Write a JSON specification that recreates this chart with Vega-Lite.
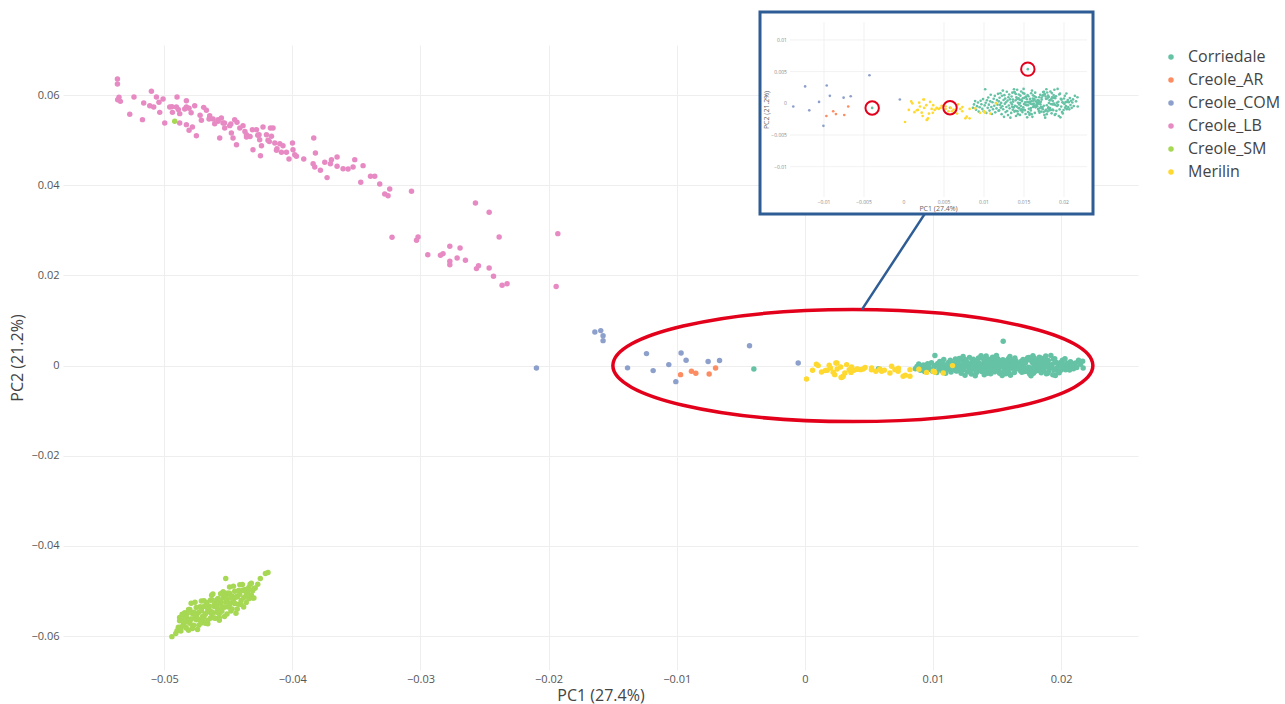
{
"$schema": "https://vega.github.io/schema/vega-lite/v6.json",
"width": 1075,
"height": 625,
"autosize": {"type": "none"},
"padding": {"left": 63, "top": 45, "right": 147, "bottom": 34},
"background": "white",
"config": {
 "view": {"stroke": null},
 "font": "Open Sans",
 "axis": {"gridColor": "#eeeeee", "gridWidth": 1, "domain": false, "ticks": false, "labelFont": "Open Sans", "labelFontSize": 11, "labelColor": "#555555", "titleFont": "Open Sans", "titleFontSize": 16, "titleFontWeight": "normal", "titleColor": "#444444"}
},
"datasets": {
"pca": [
{"breed":"Corriedale","pc1":0.00862,"pc2":-0.00071},{"breed":"Corriedale","pc1":0.00875,"pc2":-0.00018},{"breed":"Corriedale","pc1":0.00889,"pc2":0.00035},{"breed":"Corriedale","pc1":0.00901,"pc2":-0.00102},{"breed":"Corriedale","pc1":0.00913,"pc2":-0.00045},{"breed":"Corriedale","pc1":0.00925,"pc2":0.00012},{"breed":"Corriedale","pc1":0.00934,"pc2":-0.00131},{"breed":"Corriedale","pc1":0.00946,"pc2":-0.00062},{"breed":"Corriedale","pc1":0.00958,"pc2":0.00041},{"breed":"Corriedale","pc1":0.00967,"pc2":-0.00015},{"breed":"Corriedale","pc1":0.00979,"pc2":-0.00088},{"breed":"Corriedale","pc1":0.00988,"pc2":0.00066},{"breed":"Corriedale","pc1":0.00997,"pc2":-0.00124},{"breed":"Corriedale","pc1":0.01008,"pc2":-0.00033},{"breed":"Corriedale","pc1":0.01015,"pc2":0.00222},{"breed":"Corriedale","pc1":0.01021,"pc2":0.00008},{"breed":"Corriedale","pc1":0.01029,"pc2":-0.00151},{"breed":"Corriedale","pc1":0.01037,"pc2":0.00048},{"breed":"Corriedale","pc1":0.01046,"pc2":-0.00071},{"breed":"Corriedale","pc1":0.01053,"pc2":0.00091},{"breed":"Corriedale","pc1":0.01061,"pc2":-0.00022},{"breed":"Corriedale","pc1":0.01069,"pc2":-0.00115},{"breed":"Corriedale","pc1":0.01078,"pc2":0.00031},{"breed":"Corriedale","pc1":0.01084,"pc2":0.00135},{"breed":"Corriedale","pc1":0.01092,"pc2":-0.00058},{"breed":"Corriedale","pc1":0.01099,"pc2":-0.00168},{"breed":"Corriedale","pc1":0.01106,"pc2":0.00017},{"breed":"Corriedale","pc1":0.01113,"pc2":-0.00093},{"breed":"Corriedale","pc1":0.01121,"pc2":0.00072},{"breed":"Corriedale","pc1":0.01128,"pc2":-0.00039},{"breed":"Corriedale","pc1":0.01135,"pc2":0.00118},{"breed":"Corriedale","pc1":0.01141,"pc2":-0.00142},{"breed":"Corriedale","pc1":0.01149,"pc2":0.00005},{"breed":"Corriedale","pc1":0.01156,"pc2":-0.00081},{"breed":"Corriedale","pc1":0.01162,"pc2":0.00051},{"breed":"Corriedale","pc1":0.01169,"pc2":-0.00021},{"breed":"Corriedale","pc1":0.01175,"pc2":0.00149},{"breed":"Corriedale","pc1":0.01181,"pc2":-0.00118},
{"breed":"Corriedale","pc1":0.01185,"pc2":0.00031},{"breed":"Corriedale","pc1":0.0119,"pc2":-0.00112},{"breed":"Corriedale","pc1":0.01195,"pc2":0.00087},{"breed":"Corriedale","pc1":0.012,"pc2":-0.00024},{"breed":"Corriedale","pc1":0.01205,"pc2":0.00158},{"breed":"Corriedale","pc1":0.0121,"pc2":-0.00069},{"breed":"Corriedale","pc1":0.01215,"pc2":0.00006},{"breed":"Corriedale","pc1":0.0122,"pc2":-0.00171},{"breed":"Corriedale","pc1":0.01225,"pc2":0.00119},{"breed":"Corriedale","pc1":0.0123,"pc2":-0.00047},{"breed":"Corriedale","pc1":0.01235,"pc2":0.00201},{"breed":"Corriedale","pc1":0.0124,"pc2":-0.00093},{"breed":"Corriedale","pc1":0.01245,"pc2":0.00052},{"breed":"Corriedale","pc1":0.0125,"pc2":-0.00214},{"breed":"Corriedale","pc1":0.01255,"pc2":0.00128},{"breed":"Corriedale","pc1":0.0126,"pc2":-0.00008},{"breed":"Corriedale","pc1":0.01265,"pc2":0.00074},{"breed":"Corriedale","pc1":0.0127,"pc2":-0.00139},{"breed":"Corriedale","pc1":0.01275,"pc2":0.00017},{"breed":"Corriedale","pc1":0.0128,"pc2":-0.00058},{"breed":"Corriedale","pc1":0.01285,"pc2":0.00183},{"breed":"Corriedale","pc1":0.0129,"pc2":-0.00121},{"breed":"Corriedale","pc1":0.01295,"pc2":0.00043},{"breed":"Corriedale","pc1":0.013,"pc2":-0.00186},{"breed":"Corriedale","pc1":0.01305,"pc2":0.00096},{"breed":"Corriedale","pc1":0.0131,"pc2":-0.00035},{"breed":"Corriedale","pc1":0.01315,"pc2":0.00139},{"breed":"Corriedale","pc1":0.0132,"pc2":-0.00079},{"breed":"Corriedale","pc1":0.01325,"pc2":0.00062},{"breed":"Corriedale","pc1":0.0133,"pc2":-0.00227},{"breed":"Corriedale","pc1":0.01335,"pc2":0.00011},{"breed":"Corriedale","pc1":0.0134,"pc2":-0.00152},{"breed":"Corriedale","pc1":0.01345,"pc2":0.00108},{"breed":"Corriedale","pc1":0.0135,"pc2":-0.00016},{"breed":"Corriedale","pc1":0.01355,"pc2":0.00168},{"breed":"Corriedale","pc1":0.0136,"pc2":-0.00101},{"breed":"Corriedale","pc1":0.01365,"pc2":0.00025},{"breed":"Corriedale","pc1":0.0137,"pc2":-0.00064},{"breed":"Corriedale","pc1":0.01375,"pc2":0.00221},{"breed":"Corriedale","pc1":0.0138,"pc2":-0.00131},
{"breed":"Corriedale","pc1":0.01385,"pc2":0.00171},{"breed":"Corriedale","pc1":0.0139,"pc2":-0.00119},{"breed":"Corriedale","pc1":0.01395,"pc2":0.00047},{"breed":"Corriedale","pc1":0.014,"pc2":-0.00201},{"breed":"Corriedale","pc1":0.01405,"pc2":0.00093},{"breed":"Corriedale","pc1":0.0141,"pc2":-0.00052},{"breed":"Corriedale","pc1":0.01415,"pc2":0.00214},{"breed":"Corriedale","pc1":0.0142,"pc2":-0.00128},{"breed":"Corriedale","pc1":0.01425,"pc2":0.00008},{"breed":"Corriedale","pc1":0.0143,"pc2":-0.00074},{"breed":"Corriedale","pc1":0.01435,"pc2":0.00139},{"breed":"Corriedale","pc1":0.0144,"pc2":-0.00017},{"breed":"Corriedale","pc1":0.01445,"pc2":0.00058},{"breed":"Corriedale","pc1":0.0145,"pc2":-0.00183},{"breed":"Corriedale","pc1":0.01455,"pc2":0.00121},{"breed":"Corriedale","pc1":0.0146,"pc2":-0.00043},{"breed":"Corriedale","pc1":0.01465,"pc2":0.00186},{"breed":"Corriedale","pc1":0.0147,"pc2":-0.00096},{"breed":"Corriedale","pc1":0.01475,"pc2":0.00035},{"breed":"Corriedale","pc1":0.0148,"pc2":-0.00139},{"breed":"Corriedale","pc1":0.01485,"pc2":0.00079},{"breed":"Corriedale","pc1":0.0149,"pc2":-0.00062},{"breed":"Corriedale","pc1":0.01495,"pc2":0.00227},{"breed":"Corriedale","pc1":0.015,"pc2":-0.00011},{"breed":"Corriedale","pc1":0.01505,"pc2":0.00152},{"breed":"Corriedale","pc1":0.0151,"pc2":-0.00108},{"breed":"Corriedale","pc1":0.01515,"pc2":0.00016},{"breed":"Corriedale","pc1":0.0152,"pc2":-0.00168},{"breed":"Corriedale","pc1":0.01525,"pc2":0.00101},{"breed":"Corriedale","pc1":0.0153,"pc2":-0.00025},{"breed":"Corriedale","pc1":0.01535,"pc2":0.00064},{"breed":"Corriedale","pc1":0.0154,"pc2":-0.00221},{"breed":"Corriedale","pc1":0.01545,"pc2":0.00131},{"breed":"Corriedale","pc1":0.0155,"pc2":-0.00031},{"breed":"Corriedale","pc1":0.01555,"pc2":0.00112},{"breed":"Corriedale","pc1":0.0156,"pc2":-0.00087},{"breed":"Corriedale","pc1":0.01565,"pc2":0.00024},{"breed":"Corriedale","pc1":0.0157,"pc2":-0.00158},{"breed":"Corriedale","pc1":0.01575,"pc2":0.00069},{"breed":"Corriedale","pc1":0.0158,"pc2":-0.00006},
{"breed":"Corriedale","pc1":0.01585,"pc2":-0.00112},{"breed":"Corriedale","pc1":0.0159,"pc2":0.00158},{"breed":"Corriedale","pc1":0.01595,"pc2":-0.00171},{"breed":"Corriedale","pc1":0.016,"pc2":0.00201},{"breed":"Corriedale","pc1":0.01605,"pc2":-0.00214},{"breed":"Corriedale","pc1":0.0161,"pc2":0.00074},{"breed":"Corriedale","pc1":0.01615,"pc2":-0.00058},{"breed":"Corriedale","pc1":0.0162,"pc2":0.00043},{"breed":"Corriedale","pc1":0.01625,"pc2":-0.00035},{"breed":"Corriedale","pc1":0.0163,"pc2":0.00062},{"breed":"Corriedale","pc1":0.01635,"pc2":-0.00152},{"breed":"Corriedale","pc1":0.0164,"pc2":0.00168},{"breed":"Corriedale","pc1":0.01645,"pc2":-0.00064},{"breed":"Corriedale","pc1":0.0165,"pc2":0.00031},{"breed":"Corriedale","pc1":0.01655,"pc2":-0.00024},{"breed":"Corriedale","pc1":0.0166,"pc2":0.00006},{"breed":"Corriedale","pc1":0.01665,"pc2":-0.00047},{"breed":"Corriedale","pc1":0.0167,"pc2":0.00052},{"breed":"Corriedale","pc1":0.01675,"pc2":-0.00008},{"breed":"Corriedale","pc1":0.0168,"pc2":0.00017},{"breed":"Corriedale","pc1":0.01685,"pc2":-0.00121},{"breed":"Corriedale","pc1":0.0169,"pc2":0.00096},{"breed":"Corriedale","pc1":0.01695,"pc2":-0.00079},{"breed":"Corriedale","pc1":0.017,"pc2":0.00011},{"breed":"Corriedale","pc1":0.01705,"pc2":-0.00016},{"breed":"Corriedale","pc1":0.0171,"pc2":0.00025},{"breed":"Corriedale","pc1":0.01715,"pc2":-0.00131},{"breed":"Corriedale","pc1":0.0172,"pc2":0.00087},{"breed":"Corriedale","pc1":0.01725,"pc2":-0.00069},{"breed":"Corriedale","pc1":0.0173,"pc2":0.00119},{"breed":"Corriedale","pc1":0.01735,"pc2":-0.00093},{"breed":"Corriedale","pc1":0.0174,"pc2":0.00128},{"breed":"Corriedale","pc1":0.01745,"pc2":-0.00139},{"breed":"Corriedale","pc1":0.0175,"pc2":0.00183},{"breed":"Corriedale","pc1":0.01755,"pc2":-0.00186},{"breed":"Corriedale","pc1":0.0176,"pc2":0.00139},{"breed":"Corriedale","pc1":0.01765,"pc2":-0.00227},{"breed":"Corriedale","pc1":0.0177,"pc2":0.00108},{"breed":"Corriedale","pc1":0.01775,"pc2":-0.00101},{"breed":"Corriedale","pc1":0.0178,"pc2":0.00221},
{"breed":"Corriedale","pc1":0.01785,"pc2":-0.00031},{"breed":"Corriedale","pc1":0.0179,"pc2":0.00171},{"breed":"Corriedale","pc1":0.01795,"pc2":-0.00128},{"breed":"Corriedale","pc1":0.018,"pc2":0.00121},{"breed":"Corriedale","pc1":0.01805,"pc2":-0.00062},{"breed":"Corriedale","pc1":0.0181,"pc2":0.00101},{"breed":"Corriedale","pc1":0.01815,"pc2":-0.00087},{"breed":"Corriedale","pc1":0.0182,"pc2":0.00047},{"breed":"Corriedale","pc1":0.01825,"pc2":-0.00074},{"breed":"Corriedale","pc1":0.0183,"pc2":0.00186},{"breed":"Corriedale","pc1":0.01835,"pc2":-0.00011},{"breed":"Corriedale","pc1":0.0184,"pc2":0.00064},{"breed":"Corriedale","pc1":0.01845,"pc2":-0.00158},{"breed":"Corriedale","pc1":0.0185,"pc2":0.00093},{"breed":"Corriedale","pc1":0.01855,"pc2":-0.00017},{"breed":"Corriedale","pc1":0.0186,"pc2":0.00035},{"breed":"Corriedale","pc1":0.01865,"pc2":-0.00108},{"breed":"Corriedale","pc1":0.0187,"pc2":0.00131},{"breed":"Corriedale","pc1":0.01875,"pc2":-0.00006},{"breed":"Corriedale","pc1":0.0188,"pc2":0.00214},{"breed":"Corriedale","pc1":0.01885,"pc2":-0.00183},{"breed":"Corriedale","pc1":0.0189,"pc2":0.00079},{"breed":"Corriedale","pc1":0.01895,"pc2":-0.00168},{"breed":"Corriedale","pc1":0.019,"pc2":0.00112},{"breed":"Corriedale","pc1":0.01905,"pc2":-0.00119},{"breed":"Corriedale","pc1":0.0191,"pc2":0.00008},{"breed":"Corriedale","pc1":0.01915,"pc2":-0.00043},{"breed":"Corriedale","pc1":0.0192,"pc2":0.00227},{"breed":"Corriedale","pc1":0.01925,"pc2":-0.00025},{"breed":"Corriedale","pc1":0.0193,"pc2":0.00024},{"breed":"Corriedale","pc1":0.01935,"pc2":-0.00201},{"breed":"Corriedale","pc1":0.0194,"pc2":0.00139},{"breed":"Corriedale","pc1":0.01945,"pc2":-0.00096},{"breed":"Corriedale","pc1":0.0195,"pc2":0.00152},{"breed":"Corriedale","pc1":0.01955,"pc2":-0.00221},{"breed":"Corriedale","pc1":0.0196,"pc2":0.00069},{"breed":"Corriedale","pc1":0.01965,"pc2":-0.00052},{"breed":"Corriedale","pc1":0.0197,"pc2":0.00058},{"breed":"Corriedale","pc1":0.01975,"pc2":-0.00139},{"breed":"Corriedale","pc1":0.0198,"pc2":0.00016},
{"breed":"Corriedale","pc1":0.01985,"pc2":-0.00159},{"breed":"Corriedale","pc1":0.0199,"pc2":0.00008},{"breed":"Corriedale","pc1":0.01995,"pc2":-0.00106},{"breed":"Corriedale","pc1":0.02,"pc2":0.00076},{"breed":"Corriedale","pc1":0.02005,"pc2":-0.00011},{"breed":"Corriedale","pc1":0.0201,"pc2":0.00118},{"breed":"Corriedale","pc1":0.02015,"pc2":-0.00071},{"breed":"Corriedale","pc1":0.0202,"pc2":0.00018},{"breed":"Corriedale","pc1":0.02025,"pc2":-0.00045},{"breed":"Corriedale","pc1":0.0203,"pc2":0.00155},{"breed":"Corriedale","pc1":0.02035,"pc2":-0.00092},{"breed":"Corriedale","pc1":0.0204,"pc2":0.00022},
{"breed":"Corriedale","pc1":0.01352,"pc2":-0.00055},{"breed":"Corriedale","pc1":0.01361,"pc2":0.00059},{"breed":"Corriedale","pc1":0.0137,"pc2":-0.00063},{"breed":"Corriedale","pc1":0.01379,"pc2":0.00177},{"breed":"Corriedale","pc1":0.01388,"pc2":-0.00038},{"breed":"Corriedale","pc1":0.01397,"pc2":0.00146},{"breed":"Corriedale","pc1":0.01406,"pc2":-0.00122},{"breed":"Corriedale","pc1":0.01415,"pc2":0.0007},{"breed":"Corriedale","pc1":0.01424,"pc2":-0.00171},{"breed":"Corriedale","pc1":0.01433,"pc2":0.00077},{"breed":"Corriedale","pc1":0.01442,"pc2":-0.00081},{"breed":"Corriedale","pc1":0.01451,"pc2":0.00005},{"breed":"Corriedale","pc1":0.0146,"pc2":-0.00111},{"breed":"Corriedale","pc1":0.01469,"pc2":0.0005},{"breed":"Corriedale","pc1":0.01478,"pc2":-0.00105},{"breed":"Corriedale","pc1":0.01487,"pc2":0.00161},{"breed":"Corriedale","pc1":0.01496,"pc2":-0.00097},{"breed":"Corriedale","pc1":0.01505,"pc2":0.00086},{"breed":"Corriedale","pc1":0.01514,"pc2":-0.00019},{"breed":"Corriedale","pc1":0.01523,"pc2":0.00102},{"breed":"Corriedale","pc1":0.01532,"pc2":-0.00028},{"breed":"Corriedale","pc1":0.01541,"pc2":0.0002},{"breed":"Corriedale","pc1":0.0155,"pc2":-0.00137},{"breed":"Corriedale","pc1":0.01559,"pc2":0.00014},{"breed":"Corriedale","pc1":0.01568,"pc2":-0.00182},{"breed":"Corriedale","pc1":0.01577,"pc2":0.00025},{"breed":"Corriedale","pc1":0.01586,"pc2":-0.00074},{"breed":"Corriedale","pc1":0.01595,"pc2":0.00034},{"breed":"Corriedale","pc1":0.01604,"pc2":-0.00013},{"breed":"Corriedale","pc1":0.01613,"pc2":0.00126},{"breed":"Corriedale","pc1":0.01622,"pc2":-0.00006},{"breed":"Corriedale","pc1":0.01631,"pc2":0.00111},{"breed":"Corriedale","pc1":0.0164,"pc2":-0.00051},{"breed":"Corriedale","pc1":0.01649,"pc2":0.00095},{"breed":"Corriedale","pc1":0.01658,"pc2":-0.00046},{"breed":"Corriedale","pc1":0.01667,"pc2":0.00009},{"breed":"Corriedale","pc1":0.01676,"pc2":-0.0009},{"breed":"Corriedale","pc1":0.01685,"pc2":0.00042},{"breed":"Corriedale","pc1":0.01694,"pc2":-0.00149},{"breed":"Corriedale","pc1":0.01703,"pc2":0.00134},{"breed":"Corriedale","pc1":0.01712,"pc2":-0.00055},{"breed":"Corriedale","pc1":0.01721,"pc2":0.00059},{"breed":"Corriedale","pc1":0.0173,"pc2":-0.00063},{"breed":"Corriedale","pc1":0.01739,"pc2":0.00177},{"breed":"Corriedale","pc1":0.01748,"pc2":-0.00038},{"breed":"Corriedale","pc1":0.01757,"pc2":0.00146},{"breed":"Corriedale","pc1":0.01766,"pc2":-0.00122},{"breed":"Corriedale","pc1":0.01775,"pc2":0.0007},{"breed":"Corriedale","pc1":0.01784,"pc2":-0.00171},{"breed":"Corriedale","pc1":0.01793,"pc2":0.00077},{"breed":"Corriedale","pc1":0.01802,"pc2":-0.00081},{"breed":"Corriedale","pc1":0.01811,"pc2":0.00005},{"breed":"Corriedale","pc1":0.0182,"pc2":-0.00111},{"breed":"Corriedale","pc1":0.01829,"pc2":0.0005},{"breed":"Corriedale","pc1":0.01838,"pc2":-0.00105},{"breed":"Corriedale","pc1":0.01847,"pc2":0.00161},{"breed":"Corriedale","pc1":0.01856,"pc2":-0.00097},{"breed":"Corriedale","pc1":0.01865,"pc2":0.00086},{"breed":"Corriedale","pc1":0.01874,"pc2":-0.00019},{"breed":"Corriedale","pc1":0.01883,"pc2":0.00102},{"breed":"Corriedale","pc1":0.01892,"pc2":-0.00028},
{"breed":"Corriedale","pc1":0.02047,"pc2":0.00052},{"breed":"Corriedale","pc1":0.02053,"pc2":-0.00061},{"breed":"Corriedale","pc1":0.0206,"pc2":0.00018},{"breed":"Corriedale","pc1":0.02066,"pc2":-0.00095},{"breed":"Corriedale","pc1":0.02073,"pc2":0.00084},{"breed":"Corriedale","pc1":0.02081,"pc2":-0.00027},{"breed":"Corriedale","pc1":0.02088,"pc2":0.00041},{"breed":"Corriedale","pc1":0.02096,"pc2":-0.00072},{"breed":"Corriedale","pc1":0.02104,"pc2":0.00012},{"breed":"Corriedale","pc1":0.02113,"pc2":0.00061},{"breed":"Corriedale","pc1":0.02122,"pc2":-0.00044},{"breed":"Corriedale","pc1":0.02136,"pc2":0.00118},{"breed":"Corriedale","pc1":0.02151,"pc2":0.00031},{"breed":"Corriedale","pc1":0.02168,"pc2":0.00096},{"breed":"Corriedale","pc1":0.02172,"pc2":-0.00051},
{"breed":"Corriedale","pc1":0.01548,"pc2":0.00539},{"breed":"Corriedale","pc1":-0.00398,"pc2":-0.00073},{"breed":"Corriedale","pc1":0.00575,"pc2":-0.0007},
{"breed":"Creole_AR","pc1":-0.0097,"pc2":-0.002},{"breed":"Creole_AR","pc1":-0.00885,"pc2":-0.00126},{"breed":"Creole_AR","pc1":-0.00851,"pc2":-0.0017},{"breed":"Creole_AR","pc1":-0.00747,"pc2":-0.00184},{"breed":"Creole_AR","pc1":-0.00697,"pc2":-0.00051},
{"breed":"Creole_COM","pc1":-0.02095,"pc2":-0.00051},{"breed":"Creole_COM","pc1":-0.01639,"pc2":0.00747},{"breed":"Creole_COM","pc1":-0.01593,"pc2":0.00776},{"breed":"Creole_COM","pc1":-0.01575,"pc2":0.00665},{"breed":"Creole_COM","pc1":-0.01575,"pc2":0.00554},{"breed":"Creole_COM","pc1":-0.01384,"pc2":-0.0005},{"breed":"Creole_COM","pc1":-0.01236,"pc2":0.00266},{"breed":"Creole_COM","pc1":-0.01184,"pc2":-0.00111},{"breed":"Creole_COM","pc1":-0.01062,"pc2":0.00022},{"breed":"Creole_COM","pc1":-0.00966,"pc2":0.00281},{"breed":"Creole_COM","pc1":-0.00927,"pc2":0.00118},{"breed":"Creole_COM","pc1":-0.01007,"pc2":-0.00355},{"breed":"Creole_COM","pc1":-0.00755,"pc2":0.00089},{"breed":"Creole_COM","pc1":-0.00666,"pc2":0.00111},{"breed":"Creole_COM","pc1":-0.00432,"pc2":0.00443},{"breed":"Creole_COM","pc1":-0.00052,"pc2":0.0006},
{"breed":"Creole_LB","pc1":-0.05365,"pc2":0.06357},{"breed":"Creole_LB","pc1":-0.05365,"pc2":0.06246},{"breed":"Creole_LB","pc1":-0.05353,"pc2":0.05949},{"breed":"Creole_LB","pc1":-0.05342,"pc2":0.0586},{"breed":"Creole_LB","pc1":-0.05363,"pc2":0.05898},{"breed":"Creole_LB","pc1":-0.05236,"pc2":0.05958},{"breed":"Creole_LB","pc1":-0.05269,"pc2":0.05572},{"breed":"Creole_LB","pc1":-0.0517,"pc2":0.05455},{"breed":"Creole_LB","pc1":-0.0516,"pc2":0.05825},{"breed":"Creole_LB","pc1":-0.051,"pc2":0.06082},{"breed":"Creole_LB","pc1":-0.05113,"pc2":0.05765},{"breed":"Creole_LB","pc1":-0.05082,"pc2":0.05736},{"breed":"Creole_LB","pc1":-0.05061,"pc2":0.05958},{"breed":"Creole_LB","pc1":-0.05041,"pc2":0.05838},{"breed":"Creole_LB","pc1":-0.05009,"pc2":0.05914},{"breed":"Creole_LB","pc1":-0.04996,"pc2":0.05381},{"breed":"Creole_LB","pc1":-0.05035,"pc2":0.05616},{"breed":"Creole_LB","pc1":-0.04957,"pc2":0.05736},{"breed":"Creole_LB","pc1":-0.04936,"pc2":0.05616},{"breed":"Creole_LB","pc1":-0.049,"pc2":0.05958},{"breed":"Creole_LB","pc1":-0.04905,"pc2":0.05736},{"breed":"Creole_LB","pc1":-0.04879,"pc2":0.05588},{"breed":"Creole_LB","pc1":-0.04827,"pc2":0.05876},{"breed":"Creole_LB","pc1":-0.04827,"pc2":0.05736},{"breed":"Creole_LB","pc1":-0.04806,"pc2":0.05705},{"breed":"Creole_LB","pc1":-0.04762,"pc2":0.05765},{"breed":"Creole_LB","pc1":-0.04879,"pc2":0.05381},{"breed":"Creole_LB","pc1":-0.04827,"pc2":0.05344},{"breed":"Creole_LB","pc1":-0.04806,"pc2":0.05217},{"breed":"Creole_LB","pc1":-0.0478,"pc2":0.05293},{"breed":"Creole_LB","pc1":-0.04749,"pc2":0.051},{"breed":"Creole_LB","pc1":-0.04692,"pc2":0.05727},{"breed":"Creole_LB","pc1":-0.04671,"pc2":0.05661},{"breed":"Creole_LB","pc1":-0.0471,"pc2":0.05439},{"breed":"Creole_LB","pc1":-0.04645,"pc2":0.05543},{"breed":"Creole_LB","pc1":-0.04619,"pc2":0.0547},{"breed":"Creole_LB","pc1":-0.04606,"pc2":0.05366},{"breed":"Creole_LB","pc1":-0.0458,"pc2":0.05455},{"breed":"Creole_LB","pc1":-0.04554,"pc2":0.05492},{"breed":"Creole_LB","pc1":-0.04541,"pc2":0.05381},{"breed":"Creole_LB","pc1":-0.04567,"pc2":0.05049},{"breed":"Creole_LB","pc1":-0.04528,"pc2":0.05271},{"breed":"Creole_LB","pc1":-0.04489,"pc2":0.05322},{"breed":"Creole_LB","pc1":-0.04476,"pc2":0.0516},{"breed":"Creole_LB","pc1":-0.04463,"pc2":0.05049},{"breed":"Creole_LB","pc1":-0.0445,"pc2":0.05455},{"breed":"Creole_LB","pc1":-0.04432,"pc2":0.05395},{"breed":"Creole_LB","pc1":-0.04436,"pc2":0.049},{"breed":"Creole_LB","pc1":-0.04385,"pc2":0.05322},{"breed":"Creole_LB","pc1":-0.04358,"pc2":0.05122},{"breed":"Creole_LB","pc1":-0.04358,"pc2":0.05071},{"breed":"Creole_LB","pc1":-0.04312,"pc2":0.05233},{"breed":"Creole_LB","pc1":-0.04307,"pc2":0.04789},{"breed":"Creole_LB","pc1":-0.0428,"pc2":0.05233},{"breed":"Creole_LB","pc1":-0.0426,"pc2":0.05122},{"breed":"Creole_LB","pc1":-0.04255,"pc2":0.05011},{"breed":"Creole_LB","pc1":-0.04241,"pc2":0.04878},{"breed":"Creole_LB","pc1":-0.04229,"pc2":0.05293},{"breed":"Creole_LB","pc1":-0.04249,"pc2":0.04656},{"breed":"Creole_LB","pc1":-0.04202,"pc2":0.05122},{"breed":"Creole_LB","pc1":-0.0419,"pc2":0.04996},{"breed":"Creole_LB","pc1":-0.04171,"pc2":0.05271},{"breed":"Creole_LB","pc1":-0.04151,"pc2":0.05271},{"breed":"Creole_LB","pc1":-0.04163,"pc2":0.05084},{"breed":"Creole_LB","pc1":-0.04137,"pc2":0.04938},{"breed":"Creole_LB","pc1":-0.04124,"pc2":0.04774},{"breed":"Creole_LB","pc1":-0.04098,"pc2":0.04922},{"breed":"Creole_LB","pc1":-0.04073,"pc2":0.04878},{"breed":"Creole_LB","pc1":-0.04085,"pc2":0.0473},{"breed":"Creole_LB","pc1":-0.04046,"pc2":0.0473},{"breed":"Creole_LB","pc1":-0.04026,"pc2":0.04583},{"breed":"Creole_LB","pc1":-0.03999,"pc2":0.04938},{"breed":"Creole_LB","pc1":-0.03995,"pc2":0.04789},{"breed":"Creole_LB","pc1":-0.03981,"pc2":0.04678},{"breed":"Creole_LB","pc1":-0.03968,"pc2":0.04641},{"breed":"Creole_LB","pc1":-0.03911,"pc2":0.04583},{"breed":"Creole_LB","pc1":-0.03833,"pc2":0.05049},{"breed":"Creole_LB","pc1":-0.0382,"pc2":0.04716},{"breed":"Creole_LB","pc1":-0.03838,"pc2":0.04479},{"breed":"Creole_LB","pc1":-0.03825,"pc2":0.04406},{"breed":"Creole_LB","pc1":-0.03781,"pc2":0.0433},{"breed":"Creole_LB","pc1":-0.03747,"pc2":0.04508},{"breed":"Creole_LB","pc1":-0.03729,"pc2":0.04169},{"breed":"Creole_LB","pc1":-0.03703,"pc2":0.04479},{"breed":"Creole_LB","pc1":-0.03695,"pc2":0.04568},{"breed":"Creole_LB","pc1":-0.03651,"pc2":0.04627},{"breed":"Creole_LB","pc1":-0.03651,"pc2":0.04419},{"breed":"Creole_LB","pc1":-0.03604,"pc2":0.04368},{"breed":"Creole_LB","pc1":-0.03565,"pc2":0.04361},{"breed":"Creole_LB","pc1":-0.03526,"pc2":0.04406},{"breed":"Creole_LB","pc1":-0.03513,"pc2":0.04568},{"breed":"Creole_LB","pc1":-0.03466,"pc2":0.04064},{"breed":"Creole_LB","pc1":-0.03448,"pc2":0.04435},{"breed":"Creole_LB","pc1":-0.0339,"pc2":0.04197},{"breed":"Creole_LB","pc1":-0.03357,"pc2":0.04197},{"breed":"Creole_LB","pc1":-0.03318,"pc2":0.04029},{"breed":"Creole_LB","pc1":-0.03279,"pc2":0.03807},{"breed":"Creole_LB","pc1":-0.03253,"pc2":0.03769},{"breed":"Creole_LB","pc1":-0.0324,"pc2":0.03918},{"breed":"Creole_LB","pc1":-0.0307,"pc2":0.03865},{"breed":"Creole_LB","pc1":-0.03222,"pc2":0.02849},{"breed":"Creole_LB","pc1":-0.03031,"pc2":0.02778},{"breed":"Creole_LB","pc1":-0.03019,"pc2":0.02854},{"breed":"Creole_LB","pc1":-0.02571,"pc2":0.03608},{"breed":"Creole_LB","pc1":-0.02464,"pc2":0.03399},{"breed":"Creole_LB","pc1":-0.02386,"pc2":0.02854},{"breed":"Creole_LB","pc1":-0.01928,"pc2":0.02927},{"breed":"Creole_LB","pc1":-0.02943,"pc2":0.02461},{"breed":"Creole_LB","pc1":-0.02844,"pc2":0.02446},{"breed":"Creole_LB","pc1":-0.02824,"pc2":0.02483},{"breed":"Creole_LB","pc1":-0.02771,"pc2":0.02645},{"breed":"Creole_LB","pc1":-0.02691,"pc2":0.0261},{"breed":"Creole_LB","pc1":-0.02714,"pc2":0.02388},{"breed":"Creole_LB","pc1":-0.02771,"pc2":0.02313},{"breed":"Creole_LB","pc1":-0.02771,"pc2":0.02239},{"breed":"Creole_LB","pc1":-0.02649,"pc2":0.02335},{"breed":"Creole_LB","pc1":-0.02563,"pc2":0.02151},{"breed":"Creole_LB","pc1":-0.02547,"pc2":0.02217},{"breed":"Creole_LB","pc1":-0.02464,"pc2":0.02166},{"breed":"Creole_LB","pc1":-0.0243,"pc2":0.0198},{"breed":"Creole_LB","pc1":-0.02363,"pc2":0.0178},{"breed":"Creole_LB","pc1":-0.02324,"pc2":0.01818},{"breed":"Creole_LB","pc1":-0.01941,"pc2":0.01752},{"breed":"Creole_LB","pc1":-0.0472,"pc2":0.0555},{"breed":"Creole_LB","pc1":-0.0465,"pc2":0.0547},{"breed":"Creole_LB","pc1":-0.0458,"pc2":0.0542},{"breed":"Creole_LB","pc1":-0.0453,"pc2":0.0538},{"breed":"Creole_LB","pc1":-0.0448,"pc2":0.0536},{"breed":"Creole_LB","pc1":-0.0441,"pc2":0.0527},{"breed":"Creole_LB","pc1":-0.0437,"pc2":0.0519},{"breed":"Creole_LB","pc1":-0.0433,"pc2":0.0508},{"breed":"Creole_LB","pc1":-0.0494,"pc2":0.0574},{"breed":"Creole_LB","pc1":-0.0489,"pc2":0.0568},{"breed":"Creole_LB","pc1":-0.0484,"pc2":0.0569},{"breed":"Creole_LB","pc1":-0.0479,"pc2":0.0561},{"breed":"Creole_LB","pc1":-0.0427,"pc2":0.0511},{"breed":"Creole_LB","pc1":-0.0418,"pc2":0.0497},{"breed":"Creole_LB","pc1":-0.0412,"pc2":0.0481},
{"breed":"Creole_SM","pc1":-0.04918,"pc2":0.05417},
{"breed":"Creole_SM","pc1":-0.0488,"pc2":-0.05658},{"breed":"Creole_SM","pc1":-0.0488,"pc2":-0.05588},{"breed":"Creole_SM","pc1":-0.0487,"pc2":-0.05796},{"breed":"Creole_SM","pc1":-0.0487,"pc2":-0.05886},{"breed":"Creole_SM","pc1":-0.0486,"pc2":-0.05514},{"breed":"Creole_SM","pc1":-0.0486,"pc2":-0.05644},{"breed":"Creole_SM","pc1":-0.0485,"pc2":-0.05692},{"breed":"Creole_SM","pc1":-0.0485,"pc2":-0.05752},{"breed":"Creole_SM","pc1":-0.0484,"pc2":-0.0556},{"breed":"Creole_SM","pc1":-0.0484,"pc2":-0.0548},{"breed":"Creole_SM","pc1":-0.0483,"pc2":-0.05818},{"breed":"Creole_SM","pc1":-0.0483,"pc2":-0.05688},{"breed":"Creole_SM","pc1":-0.0482,"pc2":-0.0561},{"breed":"Creole_SM","pc1":-0.0482,"pc2":-0.05498},{"breed":"Creole_SM","pc1":-0.0481,"pc2":-0.05406},{"breed":"Creole_SM","pc1":-0.0481,"pc2":-0.0587},{"breed":"Creole_SM","pc1":-0.048,"pc2":-0.05714},{"breed":"Creole_SM","pc1":-0.048,"pc2":-0.0541},{"breed":"Creole_SM","pc1":-0.0479,"pc2":-0.0527},{"breed":"Creole_SM","pc1":-0.0479,"pc2":-0.05622},{"breed":"Creole_SM","pc1":-0.0478,"pc2":-0.05802},{"breed":"Creole_SM","pc1":-0.0478,"pc2":-0.05498},{"breed":"Creole_SM","pc1":-0.0477,"pc2":-0.0547},{"breed":"Creole_SM","pc1":-0.0477,"pc2":-0.05758},{"breed":"Creole_SM","pc1":-0.0476,"pc2":-0.0557},{"breed":"Creole_SM","pc1":-0.0476,"pc2":-0.0525},{"breed":"Creole_SM","pc1":-0.0475,"pc2":-0.05366},{"breed":"Creole_SM","pc1":-0.0475,"pc2":-0.05638},{"breed":"Creole_SM","pc1":-0.0474,"pc2":-0.0585},{"breed":"Creole_SM","pc1":-0.0474,"pc2":-0.05498},{"breed":"Creole_SM","pc1":-0.0473,"pc2":-0.0547},{"breed":"Creole_SM","pc1":-0.0473,"pc2":-0.05758},{"breed":"Creole_SM","pc1":-0.0472,"pc2":-0.0565},{"breed":"Creole_SM","pc1":-0.0472,"pc2":-0.05346},{"breed":"Creole_SM","pc1":-0.0471,"pc2":-0.05222},{"breed":"Creole_SM","pc1":-0.0471,"pc2":-0.0543},{"breed":"Creole_SM","pc1":-0.047,"pc2":-0.05562},{"breed":"Creole_SM","pc1":-0.047,"pc2":-0.05658},{"breed":"Creole_SM","pc1":-0.0469,"pc2":-0.05342},{"breed":"Creole_SM","pc1":-0.0469,"pc2":-0.05214},{"breed":"Creole_SM","pc1":-0.0468,"pc2":-0.05714},{"breed":"Creole_SM","pc1":-0.0468,"pc2":-0.05506},{"breed":"Creole_SM","pc1":-0.0467,"pc2":-0.05254},{"breed":"Creole_SM","pc1":-0.0467,"pc2":-0.05302},{"breed":"Creole_SM","pc1":-0.0466,"pc2":-0.05466},{"breed":"Creole_SM","pc1":-0.0466,"pc2":-0.05722},{"breed":"Creole_SM","pc1":-0.0465,"pc2":-0.05342},{"breed":"Creole_SM","pc1":-0.0465,"pc2":-0.05406},{"breed":"Creole_SM","pc1":-0.0464,"pc2":-0.05602},{"breed":"Creole_SM","pc1":-0.0464,"pc2":-0.05202},{"breed":"Creole_SM","pc1":-0.0463,"pc2":-0.05094},{"breed":"Creole_SM","pc1":-0.0463,"pc2":-0.0551},{"breed":"Creole_SM","pc1":-0.0462,"pc2":-0.05482},{"breed":"Creole_SM","pc1":-0.0462,"pc2":-0.05066},{"breed":"Creole_SM","pc1":-0.0461,"pc2":-0.05342},{"breed":"Creole_SM","pc1":-0.0461,"pc2":-0.05598},{"breed":"Creole_SM","pc1":-0.046,"pc2":-0.05602},{"breed":"Creole_SM","pc1":-0.046,"pc2":-0.05266},{"breed":"Creole_SM","pc1":-0.0459,"pc2":-0.0519},{"breed":"Creole_SM","pc1":-0.0459,"pc2":-0.05366},{"breed":"Creole_SM","pc1":-0.0458,"pc2":-0.05274},{"breed":"Creole_SM","pc1":-0.0458,"pc2":-0.05162},{"breed":"Creole_SM","pc1":-0.0457,"pc2":-0.05502},{"breed":"Creole_SM","pc1":-0.0457,"pc2":-0.05646},{"breed":"Creole_SM","pc1":-0.0456,"pc2":-0.05058},{"breed":"Creole_SM","pc1":-0.0456,"pc2":-0.05266},{"breed":"Creole_SM","pc1":-0.0455,"pc2":-0.0535},{"breed":"Creole_SM","pc1":-0.0455,"pc2":-0.05446},{"breed":"Creole_SM","pc1":-0.0454,"pc2":-0.05146},{"breed":"Creole_SM","pc1":-0.0454,"pc2":-0.05018},{"breed":"Creole_SM","pc1":-0.0453,"pc2":-0.05566},{"breed":"Creole_SM","pc1":-0.0453,"pc2":-0.05358},{"breed":"Creole_SM","pc1":-0.0452,"pc2":-0.0525},{"breed":"Creole_SM","pc1":-0.0452,"pc2":-0.05138},{"breed":"Creole_SM","pc1":-0.0451,"pc2":-0.05046},{"breed":"Creole_SM","pc1":-0.0451,"pc2":-0.0551},{"breed":"Creole_SM","pc1":-0.045,"pc2":-0.05354},{"breed":"Creole_SM","pc1":-0.045,"pc2":-0.0505},{"breed":"Creole_SM","pc1":-0.0449,"pc2":-0.0491},{"breed":"Creole_SM","pc1":-0.0449,"pc2":-0.05262},{"breed":"Creole_SM","pc1":-0.0448,"pc2":-0.05442},{"breed":"Creole_SM","pc1":-0.0448,"pc2":-0.05138},{"breed":"Creole_SM","pc1":-0.0447,"pc2":-0.0511},{"breed":"Creole_SM","pc1":-0.0447,"pc2":-0.05398},{"breed":"Creole_SM","pc1":-0.0446,"pc2":-0.0521},{"breed":"Creole_SM","pc1":-0.0446,"pc2":-0.0489},{"breed":"Creole_SM","pc1":-0.0445,"pc2":-0.05006},{"breed":"Creole_SM","pc1":-0.0445,"pc2":-0.05278},{"breed":"Creole_SM","pc1":-0.0444,"pc2":-0.0549},{"breed":"Creole_SM","pc1":-0.0444,"pc2":-0.05138},{"breed":"Creole_SM","pc1":-0.0443,"pc2":-0.0511},{"breed":"Creole_SM","pc1":-0.0443,"pc2":-0.05398},{"breed":"Creole_SM","pc1":-0.0442,"pc2":-0.0529},{"breed":"Creole_SM","pc1":-0.0442,"pc2":-0.04986},{"breed":"Creole_SM","pc1":-0.0441,"pc2":-0.04862},{"breed":"Creole_SM","pc1":-0.0441,"pc2":-0.0507},{"breed":"Creole_SM","pc1":-0.044,"pc2":-0.05202},{"breed":"Creole_SM","pc1":-0.044,"pc2":-0.05298},{"breed":"Creole_SM","pc1":-0.0439,"pc2":-0.04982},{"breed":"Creole_SM","pc1":-0.0439,"pc2":-0.04854},{"breed":"Creole_SM","pc1":-0.0438,"pc2":-0.05354},{"breed":"Creole_SM","pc1":-0.0438,"pc2":-0.05146},{"breed":"Creole_SM","pc1":-0.0437,"pc2":-0.04966},{"breed":"Creole_SM","pc1":-0.0437,"pc2":-0.04996},{"breed":"Creole_SM","pc1":-0.0436,"pc2":-0.05094},{"breed":"Creole_SM","pc1":-0.0436,"pc2":-0.05254},{"breed":"Creole_SM","pc1":-0.0435,"pc2":-0.05012},{"breed":"Creole_SM","pc1":-0.0435,"pc2":-0.05052},{"breed":"Creole_SM","pc1":-0.0434,"pc2":-0.0517},{"breed":"Creole_SM","pc1":-0.0434,"pc2":-0.0492},{"breed":"Creole_SM","pc1":-0.0433,"pc2":-0.04848},{"breed":"Creole_SM","pc1":-0.0433,"pc2":-0.05108},{"breed":"Creole_SM","pc1":-0.0432,"pc2":-0.05086},{"breed":"Creole_SM","pc1":-0.0432,"pc2":-0.04826},{"breed":"Creole_SM","pc1":-0.0431,"pc2":-0.04994},{"breed":"Creole_SM","pc1":-0.0431,"pc2":-0.05154},{"breed":"Creole_SM","pc1":-0.043,"pc2":-0.05152},{"breed":"Creole_SM","pc1":-0.043,"pc2":-0.04942},
{"breed":"Creole_SM","pc1":-0.0494,"pc2":-0.0601},{"breed":"Creole_SM","pc1":-0.0491,"pc2":-0.0594},{"breed":"Creole_SM","pc1":-0.049,"pc2":-0.0588},{"breed":"Creole_SM","pc1":-0.0489,"pc2":-0.058},{"breed":"Creole_SM","pc1":-0.0452,"pc2":-0.0472},{"breed":"Creole_SM","pc1":-0.0425,"pc2":-0.0472},{"breed":"Creole_SM","pc1":-0.0421,"pc2":-0.0461},{"breed":"Creole_SM","pc1":-0.0419,"pc2":-0.0459},{"breed":"Creole_SM","pc1":-0.0427,"pc2":-0.0485},{"breed":"Creole_SM","pc1":-0.0429,"pc2":-0.0493},
{"breed":"Creole_SM","pc1":-0.0476,"pc2":-0.0549},{"breed":"Creole_SM","pc1":-0.0471,"pc2":-0.0543},{"breed":"Creole_SM","pc1":-0.0468,"pc2":-0.0551},{"breed":"Creole_SM","pc1":-0.0465,"pc2":-0.0533},{"breed":"Creole_SM","pc1":-0.0463,"pc2":-0.0546},{"breed":"Creole_SM","pc1":-0.0461,"pc2":-0.0529},{"breed":"Creole_SM","pc1":-0.0458,"pc2":-0.0541},{"breed":"Creole_SM","pc1":-0.0456,"pc2":-0.0522},{"breed":"Creole_SM","pc1":-0.0454,"pc2":-0.0535},{"breed":"Creole_SM","pc1":-0.0451,"pc2":-0.0519},{"breed":"Creole_SM","pc1":-0.0449,"pc2":-0.0531},{"breed":"Creole_SM","pc1":-0.0447,"pc2":-0.0516},{"breed":"Creole_SM","pc1":-0.0445,"pc2":-0.0527},{"breed":"Creole_SM","pc1":-0.0443,"pc2":-0.0512},{"breed":"Creole_SM","pc1":-0.0479,"pc2":-0.0562},{"breed":"Creole_SM","pc1":-0.0474,"pc2":-0.0561},{"breed":"Creole_SM","pc1":-0.0469,"pc2":-0.0558},{"breed":"Creole_SM","pc1":-0.0466,"pc2":-0.0541},{"breed":"Creole_SM","pc1":-0.0459,"pc2":-0.0547},{"breed":"Creole_SM","pc1":-0.0453,"pc2":-0.0508},{"breed":"Creole_SM","pc1":-0.0471,"pc2":-0.0571},{"breed":"Creole_SM","pc1":-0.0463,"pc2":-0.0519},{"breed":"Creole_SM","pc1":-0.0457,"pc2":-0.0559},{"breed":"Creole_SM","pc1":-0.0449,"pc2":-0.0505},{"breed":"Creole_SM","pc1":-0.0466,"pc2":-0.0565},{"breed":"Creole_SM","pc1":-0.0454,"pc2":-0.0502},{"breed":"Creole_SM","pc1":-0.0478,"pc2":-0.0583},{"breed":"Creole_SM","pc1":-0.0483,"pc2":-0.0581},
{"breed":"Merilin","pc1":0.00013,"pc2":-0.00295},{"breed":"Merilin","pc1":0.0006,"pc2":-0.00104},{"breed":"Merilin","pc1":0.00104,"pc2":0},{"breed":"Merilin","pc1":0.0013,"pc2":-0.0014},{"breed":"Merilin","pc1":0.00174,"pc2":-0.00104},{"breed":"Merilin","pc1":0.002,"pc2":-0.00051},{"breed":"Merilin","pc1":0.00221,"pc2":-0.00148},{"breed":"Merilin","pc1":0.00242,"pc2":0.0006},{"breed":"Merilin","pc1":0.00252,"pc2":-0.00073},{"breed":"Merilin","pc1":0.00279,"pc2":-0.00029},{"breed":"Merilin","pc1":0.00299,"pc2":-0.00237},{"breed":"Merilin","pc1":0.00312,"pc2":-0.00162},{"breed":"Merilin","pc1":0.00326,"pc2":0.00022},{"breed":"Merilin","pc1":0.00346,"pc2":-0.00089},{"breed":"Merilin","pc1":0.00365,"pc2":-0.00029},{"breed":"Merilin","pc1":0.00383,"pc2":-0.00104},{"breed":"Merilin","pc1":0.00408,"pc2":-0.00073},{"breed":"Merilin","pc1":0.00435,"pc2":-0.00089},{"breed":"Merilin","pc1":0.00455,"pc2":-0.00073},{"breed":"Merilin","pc1":0.00521,"pc2":-0.00051},{"breed":"Merilin","pc1":0.00554,"pc2":-0.00126},{"breed":"Merilin","pc1":0.00585,"pc2":-0.00073},{"breed":"Merilin","pc1":0.00599,"pc2":-0.00126},{"breed":"Merilin","pc1":0.00664,"pc2":-0.00162},{"breed":"Merilin","pc1":0.00677,"pc2":-0.00015},{"breed":"Merilin","pc1":0.00703,"pc2":-0.00089},{"breed":"Merilin","pc1":0.00728,"pc2":-0.00126},{"breed":"Merilin","pc1":0.00767,"pc2":-0.00237},{"breed":"Merilin","pc1":0.0082,"pc2":-0.00237},{"breed":"Merilin","pc1":0.0082,"pc2":-0.00089},{"breed":"Merilin","pc1":0.01002,"pc2":-0.00126},{"breed":"Merilin","pc1":0.0108,"pc2":-0.00162},{"breed":"Merilin","pc1":0.01153,"pc2":0},{"breed":"Merilin","pc1":0.0009,"pc2":0.0003},{"breed":"Merilin","pc1":0.0016,"pc2":-0.0011},{"breed":"Merilin","pc1":0.0025,"pc2":0.0006},{"breed":"Merilin","pc1":0.0029,"pc2":-0.0026},{"breed":"Merilin","pc1":0.0041,"pc2":-0.0008},{"breed":"Merilin","pc1":0.0047,"pc2":-0.0004},{"breed":"Merilin","pc1":0.0062,"pc2":-0.001},{"breed":"Merilin","pc1":0.0073,"pc2":-0.0006},{"breed":"Merilin","pc1":0.0052,"pc2":-0.0009},{"breed":"Merilin","pc1":0.0019,"pc2":0.0001},{"breed":"Merilin","pc1":0.0036,"pc2":-0.0015},{"breed":"Merilin","pc1":0.0089,"pc2":-0.0008},{"breed":"Merilin","pc1":0.0095,"pc2":-0.0015},{"breed":"Merilin","pc1":0.00233,"pc2":-0.002},{"breed":"Merilin","pc1":0.00283,"pc2":-0.00263},{"breed":"Merilin","pc1":0.00784,"pc2":-0.00211},{"breed":"Merilin","pc1":0.01013,"pc2":-0.00148}
],
"outliers": [
{"pc1":-0.00398,"pc2":-0.00073},{"pc1":0.00575,"pc2":-0.0007},{"pc1":0.01548,"pc2":0.00539}
]
},
"layer": [
{
"layer": [
 {"mark": {"type": "rule", "color": "#9a9a9a", "strokeWidth": 1.5},
  "encoding": {"x": {"datum": 0, "type": "quantitative", "scale": {"domain": [-0.0579, 0.026], "nice": false, "zero": false}}}},
 {"mark": {"type": "rule", "color": "#9a9a9a", "strokeWidth": 1.5},
  "encoding": {"y": {"datum": 0, "type": "quantitative", "scale": {"domain": [-0.0675, 0.0711], "nice": false, "zero": false}}}},
 {"data": {"name": "pca"},
  "mark": {"type": "circle", "size": 30, "opacity": 1},
  "encoding": {
   "x": {"field": "pc1", "type": "quantitative", "scale": {"domain": [-0.0579, 0.026], "nice": false, "zero": false},
         "axis": {"values": [-0.05, -0.04, -0.03, -0.02, -0.01, 0, 0.01, 0.02], "format": "~g", "title": "PC1 (27.4%)", "labelPadding": 3, "titlePadding": 3, "grid": true}},
   "y": {"field": "pc2", "type": "quantitative", "scale": {"domain": [-0.0675, 0.0711], "nice": false, "zero": false},
         "axis": {"values": [-0.06, -0.04, -0.02, 0, 0.02, 0.04, 0.06], "format": "~g", "title": "PC2 (21.2%)", "labelPadding": 4, "titlePadding": 5, "grid": true}},
   "color": {"field": "breed", "type": "nominal",
     "scale": {"domain": ["Corriedale", "Creole_AR", "Creole_COM", "Creole_LB", "Creole_SM", "Merilin"], "range": ["#66c2a5", "#fc8d62", "#8da0cb", "#e78ac3", "#a6d854", "#ffd92f"]},
     "legend": {"title": null, "orient": "none", "legendX": 1100, "legendY": 4, "labelFont": "Open Sans", "labelFontSize": 16, "labelColor": "#444444", "symbolType": "circle", "symbolSize": 30, "symbolStrokeWidth": 0, "rowPadding": 7, "labelOffset": 9}}
  }},
 {"data": {"values": [{"pc1": 0.003747, "pc2": 0}]},
  "mark": {"type": "point", "shape": "M-1,0C-1,-0.1289,-0.5523,-0.2333,0,-0.2333C0.5523,-0.2333,1,-0.1289,1,0C1,0.1289,0.5523,0.2333,0,0.2333C-0.5523,0.2333,-1,0.1289,-1,0Z", "size": 230400, "filled": false, "stroke": "#e3001b", "strokeWidth": 3.5, "opacity": 1},
  "encoding": {
   "x": {"field": "pc1", "type": "quantitative", "scale": {"domain": [-0.0579, 0.026], "nice": false, "zero": false}},
   "y": {"field": "pc2", "type": "quantitative", "scale": {"domain": [-0.0675, 0.0711], "nice": false, "zero": false}}
  }},
 {"data": {"values": [{"pc1": 0.00937, "pc2": 0.0337, "pc1_end": 0.00445, "pc2_end": 0.01242}]},
  "mark": {"type": "rule", "color": "#2e5d95", "strokeWidth": 2.5},
  "encoding": {
   "x": {"field": "pc1", "type": "quantitative", "scale": {"domain": [-0.0579, 0.026], "nice": false, "zero": false}},
   "y": {"field": "pc2", "type": "quantitative", "scale": {"domain": [-0.0675, 0.0711], "nice": false, "zero": false}},
   "x2": {"field": "pc1_end"},
   "y2": {"field": "pc2_end"}
  }}
]
},
{
"layer": [
 {"data": {"values": [{"x0": -0.018, "x1": 0.023625, "y0": -0.01746, "y1": 0.0144}]},
  "mark": {"type": "rect", "fill": "white", "stroke": "#2e5d95", "strokeWidth": 3},
  "encoding": {
   "x": {"field": "x0", "type": "quantitative", "scale": {"domain": [-0.105125, 0.02925], "nice": false, "zero": false}, "axis": null},
   "x2": {"field": "x1"},
   "y": {"field": "y0", "type": "quantitative", "scale": {"domain": [-0.089385, 0.009196], "nice": false, "zero": false}, "axis": null},
   "y2": {"field": "y1"}
  }},
 {"data": {"values": [{"v": -0.01}, {"v": -0.005}, {"v": 0.005}, {"v": 0.01}, {"v": 0.015}, {"v": 0.02}]},
  "mark": {"type": "rule", "color": "#eeeeee", "strokeWidth": 0.8},
  "encoding": {
   "x": {"field": "v", "type": "quantitative", "scale": {"domain": [-0.105125, 0.02925], "nice": false, "zero": false}, "axis": null},
   "y": {"datum": -0.01478, "type": "quantitative", "scale": {"domain": [-0.089385, 0.009196], "nice": false, "zero": false}, "axis": null},
   "y2": {"datum": 0.01282}
  }},
 {"data": {"values": [{"v": -0.01}, {"v": -0.005}, {"v": 0.005}, {"v": 0.01}]},
  "mark": {"type": "rule", "color": "#eeeeee", "strokeWidth": 0.8},
  "encoding": {
   "y": {"field": "v", "type": "quantitative", "scale": {"domain": [-0.089385, 0.009196], "nice": false, "zero": false}, "axis": null},
   "x": {"datum": -0.01425, "type": "quantitative", "scale": {"domain": [-0.105125, 0.02925], "nice": false, "zero": false}, "axis": null},
   "x2": {"datum": 0.022875}
  }},
 {"mark": {"type": "rule", "color": "#b0b0b0", "strokeWidth": 1},
  "encoding": {
   "x": {"datum": 0, "type": "quantitative", "scale": {"domain": [-0.105125, 0.02925], "nice": false, "zero": false}, "axis": null},
   "y": {"datum": -0.01478, "type": "quantitative", "scale": {"domain": [-0.089385, 0.009196], "nice": false, "zero": false}, "axis": null},
   "y2": {"datum": 0.01282}
  }},
 {"mark": {"type": "rule", "color": "#b0b0b0", "strokeWidth": 1},
  "encoding": {
   "y": {"datum": 0, "type": "quantitative", "scale": {"domain": [-0.089385, 0.009196], "nice": false, "zero": false}, "axis": null},
   "x": {"datum": -0.01425, "type": "quantitative", "scale": {"domain": [-0.105125, 0.02925], "nice": false, "zero": false}, "axis": null},
   "x2": {"datum": 0.022875}
  }},
 {"data": {"name": "pca"},
  "transform": [{"filter": {"field": "pc1", "range": [-0.01425, 0.0229]}}, {"filter": {"field": "pc2", "range": [-0.0148, 0.0128]}}],
  "mark": {"type": "circle", "size": 7, "opacity": 1},
  "encoding": {
   "x": {"field": "pc1", "type": "quantitative", "scale": {"domain": [-0.105125, 0.02925], "nice": false, "zero": false}, "axis": null},
   "y": {"field": "pc2", "type": "quantitative", "scale": {"domain": [-0.089385, 0.009196], "nice": false, "zero": false}, "axis": null},
   "color": {"field": "breed", "type": "nominal"}
  }},
 {"data": {"name": "outliers"},
  "mark": {"type": "point", "shape": "circle", "size": 180, "filled": false, "stroke": "#e3001b", "strokeWidth": 2, "opacity": 1},
  "encoding": {
   "x": {"field": "pc1", "type": "quantitative", "scale": {"domain": [-0.105125, 0.02925], "nice": false, "zero": false}, "axis": null},
   "y": {"field": "pc2", "type": "quantitative", "scale": {"domain": [-0.089385, 0.009196], "nice": false, "zero": false}, "axis": null}
  }},
 {"data": {"values": [{"v": -0.01}, {"v": -0.005}, {"v": 0}, {"v": 0.005}, {"v": 0.01}, {"v": 0.015}, {"v": 0.02}]},
  "mark": {"type": "text", "fontSize": 5, "color": "#8a8a8a", "baseline": "middle", "align": "center"},
  "encoding": {
   "x": {"field": "v", "type": "quantitative", "scale": {"domain": [-0.105125, 0.02925], "nice": false, "zero": false}, "axis": null},
   "y": {"datum": -0.01557, "type": "quantitative", "scale": {"domain": [-0.089385, 0.009196], "nice": false, "zero": false}, "axis": null},
   "text": {"field": "v", "format": "~g"}
  }},
 {"data": {"values": [{"v": -0.01}, {"v": -0.005}, {"v": 0}, {"v": 0.005}, {"v": 0.01}]},
  "mark": {"type": "text", "fontSize": 5, "color": "#8a8a8a", "baseline": "middle", "align": "right"},
  "encoding": {
   "y": {"field": "v", "type": "quantitative", "scale": {"domain": [-0.089385, 0.009196], "nice": false, "zero": false}, "axis": null},
   "x": {"datum": -0.01463, "type": "quantitative", "scale": {"domain": [-0.105125, 0.02925], "nice": false, "zero": false}, "axis": null},
   "text": {"field": "v", "format": "~g"}
  }},
 {"data": {"values": [{"pc1": 0.00431, "pc2": -0.01667, "label": "PC1 (27.4%)"}]},
  "mark": {"type": "text", "fontSize": 7, "color": "#666666", "baseline": "middle", "align": "center"},
  "encoding": {
   "x": {"field": "pc1", "type": "quantitative", "scale": {"domain": [-0.105125, 0.02925], "nice": false, "zero": false}, "axis": null},
   "y": {"field": "pc2", "type": "quantitative", "scale": {"domain": [-0.089385, 0.009196], "nice": false, "zero": false}, "axis": null},
   "text": {"field": "label"}
  }},
 {"data": {"values": [{"pc1": -0.01713, "pc2": -0.00106, "label": "PC2 (21.2%)"}]},
  "mark": {"type": "text", "fontSize": 7, "color": "#666666", "baseline": "middle", "align": "center", "angle": 270},
  "encoding": {
   "x": {"field": "pc1", "type": "quantitative", "scale": {"domain": [-0.105125, 0.02925], "nice": false, "zero": false}, "axis": null},
   "y": {"field": "pc2", "type": "quantitative", "scale": {"domain": [-0.089385, 0.009196], "nice": false, "zero": false}, "axis": null},
   "text": {"field": "label"}
  }}
]
}
],
"resolve": {"scale": {"x": "independent", "y": "independent"}}
}
